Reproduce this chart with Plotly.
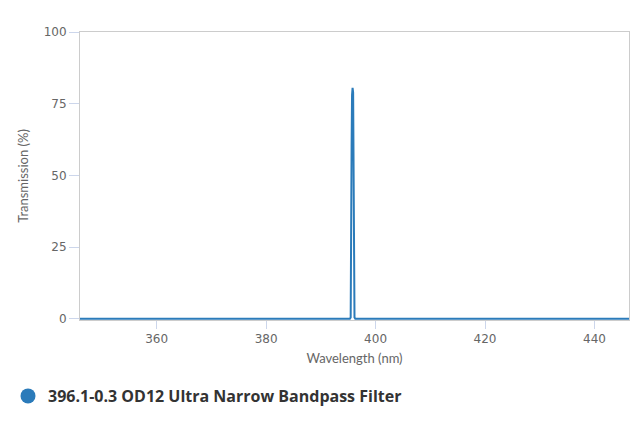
import plotly.graph_objects as go

wavelength = [346.0, 360.0, 380.0, 395.3, 395.45, 395.55, 395.62, 395.7, 395.8, 395.9, 395.98, 396.05, 396.15, 396.3, 400.0, 420.0, 440.0, 446.3]
transmission = [0.0, 0.0, 0.0, 0.0, 0.5, 20.0, 60.0, 78.0, 80.5, 79.0, 60.0, 20.0, 0.5, 0.0, 0.0, 0.0, 0.0, 0.0]
series_name = "396.1-0.3 OD12 Ultra Narrow Bandpass Filter"
x_ticks = [360, 380, 400, 420, 440]
y_ticks = [0, 25, 50, 75, 100]

color = "#2b7bba"
fig = go.Figure()
fig.add_trace(go.Scatter(x=wavelength, y=transmission, mode="lines",
                         line=dict(color=color, width=2), showlegend=False,
                         hoverinfo="x+y"))
fig.add_trace(go.Scatter(x=[None], y=[None], mode="markers", name=series_name,
                         marker=dict(color=color, size=15, symbol="circle")))

axis_font = dict(family="DejaVu Sans, sans-serif", size=12, color="#666666")
title_font = dict(family="Lato, sans-serif", size=13, color="#666666")
fig.update_layout(
    width=632, height=419,
    margin=dict(l=72, r=11, t=24, b=107),
    paper_bgcolor="white", plot_bgcolor="white",
    font=dict(family="Lato, sans-serif"),
    xaxis=dict(range=[346.0, 446.3], tickvals=x_ticks, showgrid=False, zeroline=False,
               ticks="outside", ticklen=8, tickcolor="#ccd6eb", tickfont=axis_font,
               automargin=False,
               showline=True, linecolor="#cccccc", linewidth=1, mirror=True,
               title=dict(text="Wavelength (nm)", font=title_font, standoff=8)),
    yaxis=dict(range=[-0.4, 100], tickvals=y_ticks, showgrid=False, zeroline=False,
               ticks="outside", ticklen=10, tickcolor="#ccd6eb", tickfont=axis_font,
               automargin=False,
               showline=True, linecolor="#cccccc", linewidth=1, mirror=True,
               title=dict(text="Transmission (%)", font=title_font, standoff=12)),
    legend=dict(orientation="h", x=0.0, y=0.074, xref="container", yref="container",
                xanchor="left", yanchor="middle",
                font=dict(family="Open Sans, sans-serif", size=16, color="#333333", weight="bold"),
                itemwidth=30),
)
fig.write_html("out.html")
